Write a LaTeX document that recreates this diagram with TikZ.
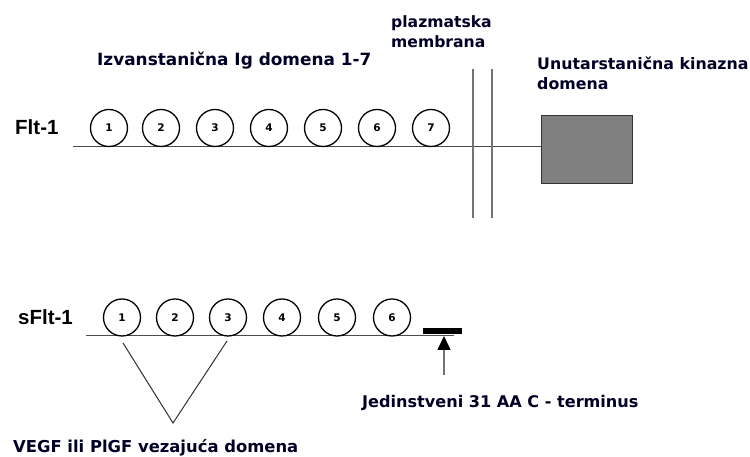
\documentclass[tikz,border=0pt]{standalone}
\usepackage{fontspec}
\setmainfont{DejaVu Sans}
\newfontfamily\arialb{Liberation Sans}
\usetikzlibrary{arrows.meta}
\tikzset{
  dom/.style={circle,draw=black,line width=1.3pt,fill=white,minimum size=37pt,inner sep=0pt,font=\fontsize{10.5}{10.5}\selectfont\bfseries},
  lbl/.style={inner sep=0pt,font=\fontsize{#1}{20}\selectfont\bfseries,text=black!85!blue},
  lbl/.default=16,
  molname/.style={inner sep=0pt,font=\arialb\fontsize{20.5}{22}\selectfont\bfseries},
  axis/.style={draw=black!70,line width=1pt},
  memb/.style={draw=black!55,line width=1.6pt}
}
\begin{document}
\begin{tikzpicture}[x=1pt,y=1pt]
\useasboundingbox[fill=white] (0,0) rectangle (750,457);
% ---- Flt-1
\node[molname,anchor=west] (flt) at (15,330) {Flt-1};
\coordinate (l1s) at (73,310);
\node[draw=black!80,line width=1.2pt,fill=black!50,minimum width=91pt,minimum height=68pt,inner sep=0pt,anchor=north west] (box) at (541,342) {};
\draw[axis] (l1s) -- (box.west |- l1s);
\foreach \i/\x in {1/109,2/161,3/215,4/269,5/323,6/377,7/431}{
  \node[dom] (c\i) at (\x,329) {\i};
}
\coordinate (m1t) at (473,388); \coordinate (m1b) at (473,239);
\coordinate (m2t) at (492,388); \coordinate (m2b) at (492,239);
\draw[memb] (m1t) -- (m1b);
\draw[memb] (m2t) -- (m2b);
\node[lbl=16.9,anchor=west] (izv) at (97,396) {Izvanstanična Ig domena 1-7};
\node[lbl=15.6,anchor=base west,align=left] (pm) at (391,409) {plazmatska\\membrana};
\node[lbl=15.8,anchor=base west,align=left] (uk) at (537,367) {Unutarstanična kinazna\\domena};
% ---- sFlt-1
\node[molname,anchor=west] (sflt) at (18,140) {sFlt-1};
\coordinate (l2s) at (86,121);
\coordinate (l2e) at (454,121);
\draw[axis] (l2s) -- (l2e);
\foreach \i/\x in {1/122,2/175,3/228,4/282,5/337,6/392}{
  \node[dom] (s\i) at (\x,139.5) {\i};
}
\node[fill=black,minimum width=39pt,minimum height=6pt,inner sep=0pt] (bar) at (442.5,126) {};
\coordinate (ab) at (444,82);
\draw[draw=black!55,line width=1.6pt,-{Triangle[length=14pt,width=13pt,color=black]}] (ab) -- (444,121);
\node[lbl=16.1,anchor=west] (jed) at (362,54) {Jedinstveni 31 AA C - terminus};
\coordinate (v1) at (123,114); \coordinate (v2) at (173,34); \coordinate (v3) at (227,116);
\draw[black!80,line width=1pt] (v1) -- (v2) -- (v3);
\node[lbl=16.4,anchor=west] (vegf) at (13,9) {VEGF ili PlGF vezajuća domena};
\end{tikzpicture}
\end{document}
